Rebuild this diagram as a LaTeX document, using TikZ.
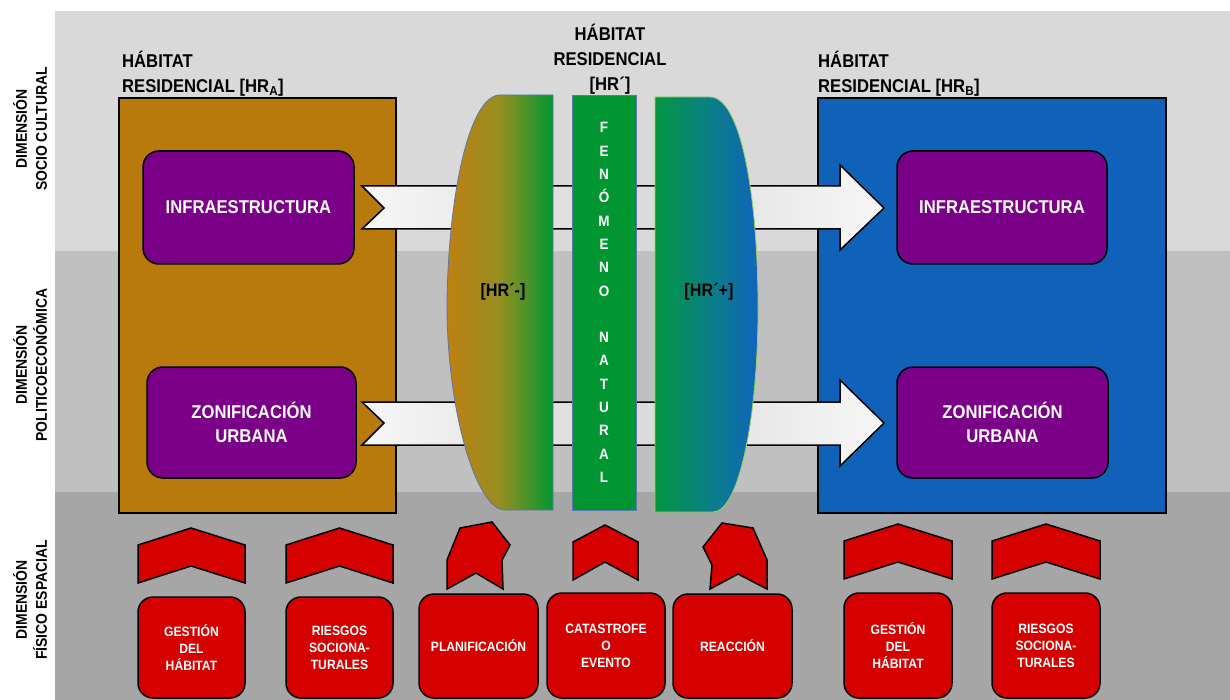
\documentclass[tikz,border=0pt]{standalone}
\usepackage{fontspec}
\setmainfont{Liberation Sans}[FakeStretch=0.9]
\usetikzlibrary{calc}
\definecolor{bgtop}{RGB}{217,217,217}
\definecolor{bgmid}{RGB}{192,192,192}
\definecolor{bgbot}{RGB}{166,166,166}
\definecolor{gold}{RGB}{185,122,13}
\definecolor{hrblue}{RGB}{16,98,185}
\definecolor{purp}{RGB}{122,0,135}
\definecolor{redb}{RGB}{213,0,0}
\definecolor{greenA}{RGB}{2,150,50}
\definecolor{lensgold}{RGB}{190,128,18}
\definecolor{lensmid}{RGB}{150,142,32}
\definecolor{lensgreen}{RGB}{2,150,64}
\definecolor{lensteal}{RGB}{10,128,130}
\definecolor{lensblue}{RGB}{16,100,190}
\definecolor{edgeblue}{RGB}{90,120,170}
\definecolor{edgegreen}{RGB}{150,210,90}
\begin{document}
\begin{tikzpicture}[x=1pt,y=-1pt,
  purpbox/.style={draw=black, line width=1.5pt, fill=purp, rounded corners=16pt, text=white,
    font=\fontsize{18.5}{24}\selectfont\bfseries, align=center, inner sep=0pt},
  redbox/.style={draw=black, line width=1.5pt, fill=redb, rounded corners=15pt, text=white,
    font=\fontsize{13.5}{17}\selectfont\bfseries, align=center, inner sep=0pt},
  habbox/.style={draw=black, line width=1.6pt, inner sep=0pt},
  chev/.style={draw=black, line width=1.5pt, fill=redb, line join=miter},
  bigarrow/.style={draw=black, line width=1.5pt, line join=miter, left color=gray!6, right color=gray!6, middle color=gray!30},
  titlelbl/.style={font=\fontsize{18.5}{25}\selectfont\bfseries, align=left, inner sep=0pt},
  dimlabel/.style={rotate=90, font=\fontsize{15.5}{20}\selectfont\bfseries, align=center, inner sep=0pt},
  lenslbl/.style={font=\fontsize{18}{22}\selectfont\bfseries, inner sep=0pt}
]
\useasboundingbox (0,0) rectangle (1230,700);
\fill[white] (0,0) rectangle (1230,700);
% background bands
\fill[bgtop] (55,11) rectangle (1230,251);
\fill[bgmid] (55,251) rectangle (1230,492);
\fill[bgbot] (55,492) rectangle (1230,700);

% dimension labels
\node[dimlabel] (d1) at (30,129) {DIMENSIÓN\\SOCIO CULTURAL};
\node[dimlabel] (d2) at (30,365) {DIMENSIÓN\\POLITICOECONÓMICA};
\node[dimlabel] (d3) at (30,600) {DIMENSIÓN\\FÍSICO ESPACIAL};

% habitat boxes
\node[habbox, fill=gold, minimum width=277pt, minimum height=415pt] (hrA) at (257.5,305.5) {};
\node[habbox, fill=hrblue, minimum width=348pt, minimum height=415pt] (hrB) at (992,305.5) {};

% titles
\node[titlelbl, anchor=west] (tA) at (122,74) {HÁBITAT\\RESIDENCIAL [HR\textsubscript{A}]};
\node[titlelbl, align=center] (tM) at (610,59) {HÁBITAT\\RESIDENCIAL\\{[}HR´{]}};
\node[titlelbl, anchor=west] (tB) at (818,74) {HÁBITAT\\RESIDENCIAL [HR\textsubscript{B}]};

% purple boxes
\node[purpbox, minimum width=211pt, minimum height=113pt] (infA) at (248.5,207.5) {INFRAESTRUCTURA};
\node[purpbox, minimum width=209pt, minimum height=111pt] (zonA) at (251.5,422.5) {ZONIFICACIÓN\\URBANA};
\node[purpbox, minimum width=210pt, minimum height=113pt] (infB) at (1002,207.5) {INFRAESTRUCTURA};
\node[purpbox, minimum width=211pt, minimum height=111pt] (zonB) at (1002.5,422.5) {ZONIFICACIÓN\\URBANA};

% big arrows
\path[bigarrow] (362,186) -- (840,186) -- (840,165) -- (884,208) -- (840,250) -- (840,229) -- (362,229) -- (384,208) -- cycle;
\path[bigarrow] (362,402) -- (840,402) -- (840,380) -- (884,423) -- (840,466) -- (840,445) -- (362,445) -- (384,423) -- cycle;

% lenses
\shadedraw[left color=lensgold, right color=greenA, middle color=lensmid, draw=edgeblue, line width=0.8pt]
  (553,95) -- (500,95) .. controls (470,95) and (449,190) .. (447,300)
  .. controls (446,405) and (475,510) .. (505,510) -- (553,510) -- cycle;
\shadedraw[left color=lensgreen, right color=lensblue, middle color=lensteal, draw=edgegreen, line width=0.8pt]
  (655,97) -- (710,97) .. controls (740,97) and (757,190) .. (758,300)
  .. controls (759,410) and (740,512) .. (713,512) -- (655,512) -- cycle;
\node[lenslbl] (hrm) at (503,292) {[HR´-]};
\node[lenslbl] (hrp) at (709,292) {[HR´+]};

% fenomeno natural
\node[draw=edgeblue, line width=0.8pt, fill=greenA, minimum width=64pt, minimum height=415pt, inner sep=0pt,
  text=white, font=\fontsize{15}{23.3}\selectfont\bfseries, align=center] (fen) at (604,302.5)
  {F\\E\\N\\Ó\\M\\E\\N\\O\\[23.3pt]N\\A\\T\\U\\R\\A\\L};

% chevrons
\path[chev] (138,545) -- (191,528) -- (245,545) -- (245,583) -- (191,566) -- (138,583) -- cycle;
\path[chev] (286,545) -- (339.5,528) -- (393,545) -- (393,583) -- (339.5,566) -- (286,583) -- cycle;
\path[chev] (447,589) -- (447,560) -- (460,528) -- (492,522) -- (510,545) -- (502,560) -- (503,589) -- (476,573) -- cycle;
\path[chev] (573,542) -- (605,525) -- (638,542) -- (638,580) -- (605,562) -- (573,580) -- cycle;
\path[chev] (710,589) -- (712,565) -- (703,547) -- (722,523) -- (753,528) -- (767,560) -- (767,589) -- (738,574) -- cycle;
\path[chev] (844,541) -- (898,524) -- (952,541) -- (952,579) -- (898,562) -- (844,579) -- cycle;
\path[chev] (992,541) -- (1046,524) -- (1100,541) -- (1100,579) -- (1046,562) -- (992,579) -- cycle;

% red boxes
\node[redbox, minimum width=107pt, minimum height=101pt] (gA) at (191.5,647.5) {GESTIÓN\\DEL\\HÁBITAT};
\node[redbox, minimum width=107pt, minimum height=101pt] (rA) at (339.5,647.5) {RIESGOS\\SOCIONA-\\TURALES};
\node[redbox, minimum width=119pt, minimum height=104pt] (plan) at (478.5,646) {PLANIFICACIÓN};
\node[redbox, minimum width=118pt, minimum height=105pt] (cat) at (606,645.5) {CATASTROFE\\O\\EVENTO};
\node[redbox, minimum width=119pt, minimum height=104pt] (reac) at (732.5,646) {REACCIÓN};
\node[redbox, minimum width=108pt, minimum height=105pt] (gB) at (898,645.5) {GESTIÓN\\DEL\\HÁBITAT};
\node[redbox, minimum width=108pt, minimum height=105pt] (rB) at (1046,645.5) {RIESGOS\\SOCIONA-\\TURALES};
\end{tikzpicture}
\end{document}
